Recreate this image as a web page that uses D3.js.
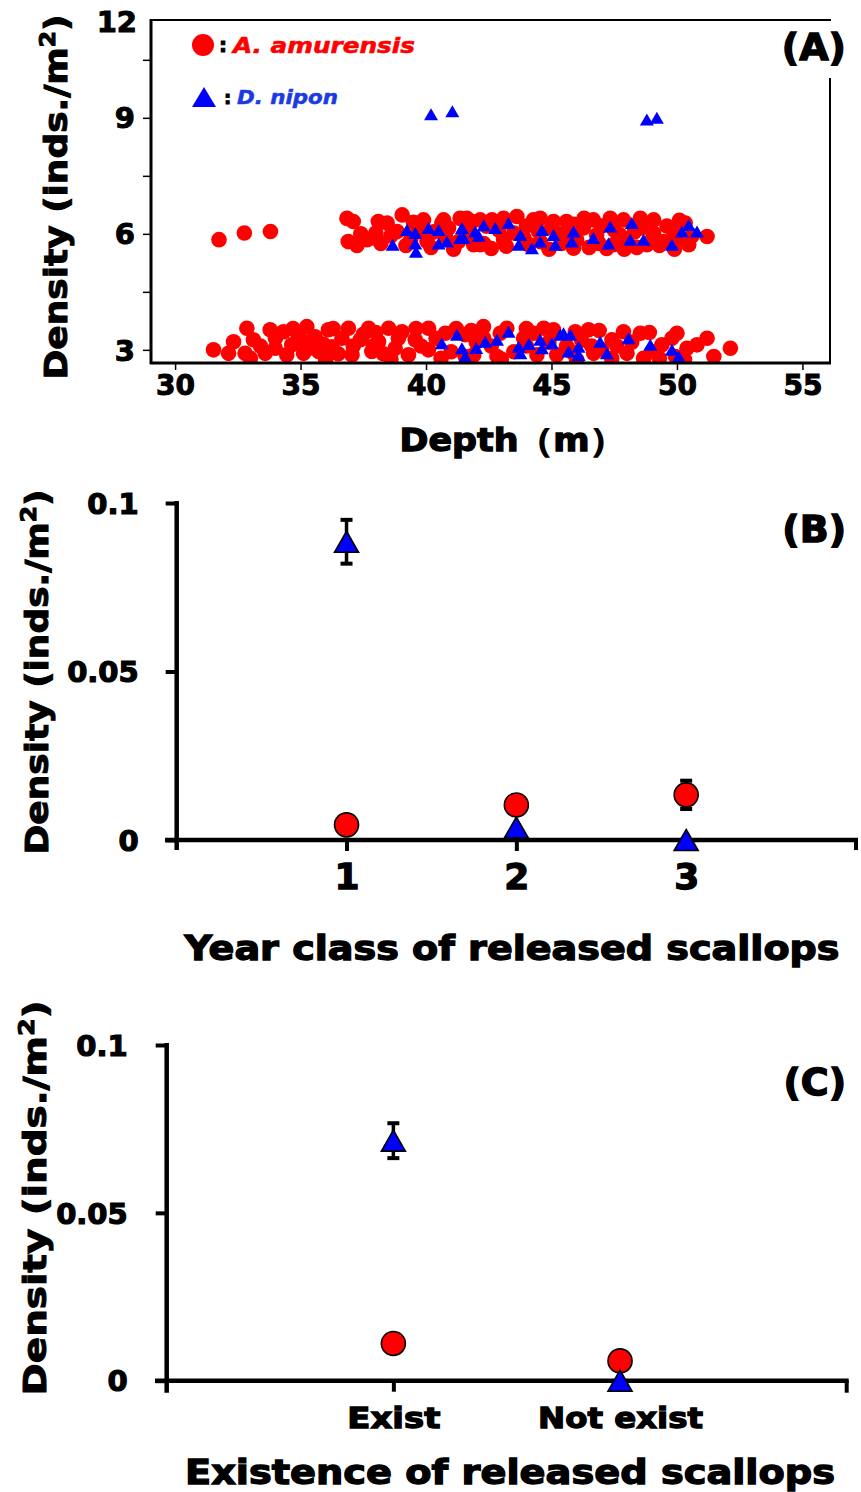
<!DOCTYPE html>
<html>
<head>
<meta charset="utf-8">
<script src="https://cdn.jsdelivr.net/npm/d3@7"></script>
<style>
  html, body { margin: 0; padding: 0; background: #fff; }
  svg { display: block; }
  .t { font-family: "DejaVu Sans", "Liberation Sans", Arial, sans-serif; font-weight: bold; fill: #000; stroke: #000; stroke-width: 1px; }
</style>
</head>
<body>
<svg id="chart" width="861" height="1492"></svg>
<script>
// ---- Panel A: density vs depth for each transect record ----
const amurDepthDensity = [
  [31.75,5.85],[32.76,6.02],[33.8,6.06],
  [36.85,6.4],[37.1,6.32],[36.9,5.8],[37.25,5.7],[37.65,5.85],[38.0,6.02],[38.1,6.32],[38.45,6.28],[38.2,5.75],
  [39.05,6.49],[38.85,6.06],[39.9,6.36],[39.4,5.89],[40.04,5.8],[40.63,6.28],[40.77,5.93],[41.36,6.4],[41.83,6.32],
  [42.16,5.72],[41.3,5.8],[40.7,6.36],[41.63,6.4],[42.16,6.36],[42.63,6.36],[43.09,6.4],[43.62,6.45],[44.28,6.36],
  [42.3,5.75],[43.09,5.85],[44.55,5.8],[41.9,5.72],[43.5,6.02],[44.48,6.06],[44.55,6.4],[45.08,6.32],[45.6,6.32],
  [46.67,6.36],[47.34,6.4],[47.87,6.36],[48.54,6.4],[49.07,6.36],[45.88,5.63],[47.47,5.72],[48.8,5.72],[49.47,5.8],
  [50.33,6.28],[50.47,5.72],[51.2,5.93],[49.87,6.06],[46.27,6.15],[46.8,5.97],[47.73,5.97],[49.07,6.02],
  [39.7,6.1],[40.3,6.05],[42.9,6.1],[43.9,5.9],[45.3,6.0],[46.0,5.85],[46.5,5.65],[47.0,6.2],[48.3,6.05],[48.0,5.75],
  [49.3,5.7],[50.0,5.85],[39.2,5.7],[42.6,5.62],[44.9,5.6],[47.9,5.6],[49.6,6.2],[37.9,5.9],
  [44.0,6.2],[45.0,6.15],[45.4,5.75],[46.3,6.4],[46.9,5.75],[47.5,6.1],[48.6,6.15],[49.0,5.85],[49.9,5.6],[50.1,6.35],
  [48.4,5.65],[47.2,5.62],[45.7,5.95],[44.1,5.72],[43.2,5.68],[42.4,6.2],[41.6,6.05],[40.9,6.15],[39.5,6.3],[38.6,5.95],
  [37.4,6.0],[40.2,5.65],[41.1,5.6],[45.9,6.25],[48.9,6.25],[50.6,5.95],
  [31.53,3.0],[32.13,2.91],[32.33,3.21],[32.86,3.56],[32.79,2.91],[33.12,3.26],[33.79,3.52],[33.59,2.91],[33.99,3.04],
  [34.32,3.47],[34.65,3.13],[34.45,2.87],[35.25,3.6],[35.18,3.21],[35.12,2.91],[35.58,3.34],[35.72,2.96],[36.11,3.52],
  [36.25,3.08],[36.65,3.3],[36.91,3.56],[37.05,2.87],[37.38,3.26],[37.71,3.56],[37.84,2.96],[38.11,3.21],[38.51,3.56],
  [38.77,3.04],[39.04,3.47],[39.3,2.87],[39.57,3.26],[40.1,3.56],[40.1,3.0],[40.77,3.43],[41.56,3.39],[42.29,3.6],
  [41.9,2.87],[42.96,3.43],[43.22,3.56],[43.89,3.3],[44.29,3.43],[44.69,3.56],[45.08,3.52],[44.42,2.87],[45.21,2.87],
  [45.95,3.47],[46.48,3.52],[46.68,2.91],[47.41,3.26],[47.87,3.47],[48.01,2.91],[48.54,3.43],[48.67,2.78],[49.4,3.13],
  [49.8,3.3],[50.0,3.43],[49.94,2.83],[50.4,3.04],[50.8,3.13],[51.2,3.3],[51.47,2.83],[52.13,3.04],[41.56,2.83],[42.83,2.83],
  [33.4,3.1],[34.0,3.3],[34.9,3.4],[35.9,3.15],[36.5,2.9],[37.1,3.1],[37.5,3.4],[38.3,2.9],[38.9,3.3],[39.8,3.1],
  [40.4,3.3],[41.0,2.95],[41.2,3.55],[42.0,3.2],[42.6,3.1],[43.5,2.95],[44.0,3.1],[44.9,3.2],[45.6,3.1],[46.2,3.25],
  [47.0,3.0],[47.6,3.1],[48.2,3.2],[49.0,2.95],[36.3,3.55],[38.0,3.45],
  [33.0,2.78],[36.0,2.75],[38.6,2.76],[40.6,2.78],[43.0,2.76],[46.0,2.75],[47.4,2.78],[49.3,2.78],[50.3,2.75],
  [34.7,3.55],[39.6,3.55],[41.8,3.5],[44.0,3.55],[46.9,3.5],[48.9,3.45],[37.9,3.1],[35.5,3.05],[42.3,3.3],[46.6,3.1],[45.8,2.95]
];
const nipDepthDensity = [
  [38.67,5.72],[39.24,6.1],[39.57,6.02],[39.57,5.75],[39.6,5.54],[40.1,6.15],[40.5,6.1],[40.5,5.75],[40.83,5.8],
  [41.43,6.15],[41.36,5.89],[41.96,6.06],[42.3,6.22],[42.76,6.15],[43.29,6.28],[43.76,5.97],[43.69,5.72],[44.22,5.63],
  [44.62,6.1],[44.55,5.8],[45.08,5.97],[45.15,5.72],[45.88,6.06],[45.81,5.8],[46.67,5.89],[47.34,6.19],[47.27,5.75],
  [48.2,6.28],[48.14,5.85],[48.67,5.85],[49.8,5.72],[50.2,6.06],[50.47,6.23],[50.8,6.06],[41.5,5.89],[42.1,5.95],
  [40.2,9.09],[41.05,9.17],[48.8,8.96],[49.2,9.0],
  [40.63,3.17],[41.23,3.39],[41.43,3.04],[41.56,2.83],[42.36,3.21],[42.83,3.26],[43.29,3.47],[43.69,3.08],[43.76,2.91],
  [44.55,3.26],[44.62,3.04],[45.02,3.17],[45.35,3.39],[45.48,3.43],[45.75,3.39],[45.68,2.96],[46.08,3.08],[46.08,2.87],
  [46.94,3.21],[47.21,2.91],[48.07,3.3],[48.94,3.13],[49.8,3.0],[50.07,2.83],[42.0,3.05],[44.1,3.15]
];
const depthTicks = [30, 35, 40, 45, 50, 55];
const densityTicksA = [3, 6, 9];
const densityMinorA = [4.5, 7.5, 10.5];

// ---- Panel B: mean density by year class of released scallops ----
const yearClasses = [1, 2, 3];
const amurByYear = [0.0045, 0.0104, 0.0134];
const amurByYearSE = [0, 0, 0.0042];
const nipByYear = [0.0885, 0.0037, 0];
const nipByYearSE = [0.0065, 0, 0];

// ---- Panel C: mean density by presence of released scallops ----
const existCats = ["Exist", "Not exist"];
const amurByExist = [0.0111, 0.0059];
const amurByExistSE = [0, 0];
const nipByExist = [0.0715, 0];
const nipByExistSE = [0.0052, 0];
const densityTicksBC = [0, 0.05, 0.1];

const RED = "#ff0000", BLUE = "#0000ff";
const svg = d3.select("#chart");

function tri(w, h) {
  // triangle centred on its bounding box
  return `M0,${-h/2}L${w/2},${h/2}L${-w/2},${h/2}Z`;
}
function yTitle(x, yc, size, len) {
  const t = svg.append("text").attr("class", "t")
    .attr("transform", `translate(${x},${yc}) rotate(-90)`)
    .attr("text-anchor", "middle").style("font-size", size + "px")
    .attr("textLength", len).attr("lengthAdjust", "spacingAndGlyphs");
  t.append("tspan").text("Density (inds./m");
  t.append("tspan").attr("baseline-shift", "super").style("font-size", (size * 0.65) + "px").text("2");
  t.append("tspan").text(")");
}
function xTitle(text, xc, y, size, len) {
  svg.append("text").attr("class", "t").attr("x", xc).attr("y", y)
    .attr("text-anchor", "middle").style("font-size", size + "px")
    .attr("textLength", len).attr("lengthAdjust", "spacingAndGlyphs")
    .style("stroke-width", "1.3px").text(text);
}
function panelTag(label, xr, y) {
  svg.append("text").attr("class", "t").attr("x", xr).attr("y", y)
    .attr("text-anchor", "end").style("font-size", "38px")
    .style("paint-order", "stroke").style("stroke", "#fff").style("stroke-width", "7px")
    .text(label);
  svg.append("text").attr("class", "t").attr("x", xr).attr("y", y)
    .attr("text-anchor", "end").style("font-size", "38px").style("stroke-width", "1.4px").text(label);
}

// ================= Panel A =================
const xA = d3.scaleLinear().domain([29.04, 56.1]).range([151, 830]);
const yA = d3.scaleLinear().domain([2.66, 11.53]).range([363, 20]);

svg.append("clipPath").attr("id", "clipA").append("rect")
  .attr("x", 151).attr("y", 20).attr("width", 679).attr("height", 343);

const gA = svg.append("g").attr("clip-path", "url(#clipA)");
gA.selectAll("circle.am").data(amurDepthDensity).join("circle")
  .attr("class", "am").attr("cx", d => xA(d[0])).attr("cy", d => yA(d[1]))
  .attr("r", 7.8).attr("fill", RED);
gA.selectAll("path.dn").data(nipDepthDensity).join("path")
  .attr("class", "dn").attr("d", tri(14, 12))
  .attr("transform", d => `translate(${xA(d[0])},${yA(d[1])})`)
  .attr("fill", BLUE);

// frame
svg.append("line").attr("x1", 151).attr("x2", 831).attr("y1", 20).attr("y2", 20)
  .attr("stroke", "#000").attr("stroke-width", 2);
svg.append("line").attr("x1", 830).attr("x2", 830).attr("y1", 78).attr("y2", 363)
  .attr("stroke", "#000").attr("stroke-width", 2);

// y axis
const axA = svg.append("g").attr("transform", "translate(151,0)")
  .call(d3.axisLeft(yA).tickValues(densityTicksA).tickSize(8).tickSizeOuter(0).tickPadding(8));
axA.select(".domain").remove();
svg.append("g").attr("transform", "translate(151,0)")
  .call(d3.axisLeft(yA).tickValues(densityMinorA).tickSize(8).tickFormat(""))
  .select(".domain").remove();
svg.append("line").attr("x1", 151).attr("x2", 151).attr("y1", 19).attr("y2", 364)
  .attr("stroke", "#000").attr("stroke-width", 3);
svg.append("text").attr("class", "t").attr("x", 137).attr("y", 32)
  .attr("text-anchor", "end").style("font-size", "29px").text("12");

// x axis
const axAx = svg.append("g").attr("transform", "translate(0,363)")
  .call(d3.axisBottom(xA).tickValues(depthTicks).tickSize(7).tickSizeOuter(0).tickPadding(5));
axAx.select(".domain").remove();
svg.append("line").attr("x1", 150).attr("x2", 831).attr("y1", 363).attr("y2", 363)
  .attr("stroke", "#000").attr("stroke-width", 3);

svg.selectAll("g.tick line").attr("stroke", "#000").attr("stroke-width", 1.5);
axA.selectAll("text").attr("class", "t").style("font-size", "29px").attr("dy", "0.35em");
axAx.selectAll("text").attr("class", "t").style("font-size", "28px");

xTitle("Depth（m）", 512, 451, 32, 225);
yTitle(67, 197, 32, 365);
panelTag("(A)", 846, 60);

// legend
svg.append("circle").attr("cx", 203).attr("cy", 45).attr("r", 11).attr("fill", RED);
svg.append("text").attr("class", "t").attr("x", 219).attr("y", 52).style("font-size", "20px").text(":");
svg.append("text").attr("x", 233).attr("y", 53)
  .style("font-family", "DejaVu Sans, Liberation Sans, Arial, sans-serif").style("font-weight", "bold")
  .style("font-style", "italic").style("font-size", "22px").attr("fill", RED)
  .attr("stroke", RED).attr("stroke-width", 0.6)
  .attr("textLength", 182).attr("lengthAdjust", "spacingAndGlyphs").text("A. amurensis");
svg.append("path").attr("d", tri(24, 20)).attr("transform", "translate(204,97)").attr("fill", BLUE);
svg.append("text").attr("class", "t").attr("x", 224).attr("y", 104).style("font-size", "18px").text(":");
svg.append("text").attr("x", 237).attr("y", 104)
  .style("font-family", "DejaVu Sans, Liberation Sans, Arial, sans-serif").style("font-weight", "bold")
  .style("font-style", "italic").style("font-size", "19px").attr("fill", "#1a3be0")
  .attr("stroke", "#1a3be0").attr("stroke-width", 0.5)
  .attr("textLength", 101).attr("lengthAdjust", "spacingAndGlyphs").text("D. nipon");

// ================= Panel B & C builder =================
function meanPanel(opt) {
  const { x, y, cats, catLabels, catLens, amur, amurSE, nip, nipSE, x0, xEnd, xLeft, yBottomExt, labelSize, labelY, tickPad } = opt;
  // y axis ticks
  const ay = svg.append("g").attr("transform", `translate(${x0},0)`)
    .call(d3.axisLeft(y).tickValues(densityTicksBC).tickSize(11).tickSizeOuter(0).tickPadding(tickPad)
      .tickFormat(d => d === 0 ? "0" : String(d)));
  ay.select(".domain").remove();
  ay.selectAll("line").attr("stroke", "#000").attr("stroke-width", 4);
  ay.selectAll("text").attr("class", "t").style("font-size", "29px").attr("dy", "0.35em")
    .style("stroke-width", "1.2px");
  svg.append("line").attr("x1", x0).attr("x2", x0).attr("y1", y(0.1) - 2).attr("y2", y(0) + yBottomExt)
    .attr("stroke", "#000").attr("stroke-width", 4.5);
  // x axis
  svg.append("line").attr("x1", xLeft).attr("x2", xEnd + 2).attr("y1", y(0)).attr("y2", y(0))
    .attr("stroke", "#000").attr("stroke-width", 4.5);
  svg.append("line").attr("x1", xEnd).attr("x2", xEnd).attr("y1", y(0)).attr("y2", y(0) + yBottomExt)
    .attr("stroke", "#000").attr("stroke-width", 4);
  const ax = svg.append("g").attr("transform", `translate(0,${y(0)})`)
    .call(d3.axisBottom(x).tickValues(cats).tickSize(11).tickSizeOuter(0).tickPadding(labelY)
      .tickFormat((d, i) => catLabels[i]));
  ax.select(".domain").remove();
  ax.selectAll("line").attr("stroke", "#000").attr("stroke-width", 4);
  ax.selectAll("text").attr("class", "t").style("font-size", labelSize + "px").style("stroke-width", "1.3px");
  if (catLens) {
    ax.selectAll("text").attr("textLength", (d, i) => catLens[i]).attr("lengthAdjust", "spacingAndGlyphs");
  }

  const g = svg.append("g");
  const capW = 12;
  function errBars(vals, se) {
    cats.forEach((c, i) => {
      if (!se[i]) return;
      const cx = x(c), y1 = y(vals[i] + se[i]), y2 = y(vals[i] - se[i]);
      g.append("line").attr("x1", cx).attr("x2", cx).attr("y1", y1).attr("y2", y2)
        .attr("stroke", "#000").attr("stroke-width", 3.5);
      [y1, y2].forEach(yy => g.append("line").attr("x1", cx - capW / 2).attr("x2", cx + capW / 2)
        .attr("y1", yy).attr("y2", yy).attr("stroke", "#000").attr("stroke-width", 4));
    });
  }
  errBars(amur, amurSE);
  errBars(nip, nipSE);
  g.selectAll("circle").data(cats).join("circle")
    .attr("cx", d => x(d)).attr("cy", (d, i) => y(amur[i])).attr("r", 12)
    .attr("fill", RED).attr("stroke", "#000").attr("stroke-width", 1.6);
  g.selectAll("path").data(cats).join("path")
    .attr("d", tri(24, 21))
    .attr("transform", (d, i) => `translate(${x(d)},${y(nip[i])})`)
    .attr("fill", BLUE).attr("stroke", "#000").attr("stroke-width", 1.6);
}

// ================= Panel B =================
const xB = d3.scaleLinear().domain([0, 4]).range([176.7, 856]);
const yB = d3.scaleLinear().domain([0, 0.1]).range([840, 503]);
meanPanel({ x: xB, y: yB, cats: yearClasses, catLabels: yearClasses.map(String), catLens: null,
  amur: amurByYear, amurSE: amurByYearSE, nip: nipByYear, nipSE: nipByYearSE,
  x0: 176.7, xEnd: 856, xLeft: 165, yBottomExt: 10, labelSize: 36, labelY: 12, tickPad: 27 });
xTitle("Year class of released scallops", 512, 960, 33, 655);
yTitle(48, 672, 32, 365);
panelTag("(B)", 846, 542);

// ================= Panel C =================
const xC = d3.scaleLinear().domain([0, 3]).range([166.7, 846.7]);
const yC = d3.scaleLinear().domain([0, 0.1]).range([1380.7, 1045]);
meanPanel({ x: xC, y: yC, cats: [1, 2], catLabels: existCats, catLens: [93, 165],
  amur: amurByExist, amurSE: amurByExistSE, nip: nipByExist, nipSE: nipByExistSE,
  x0: 166.7, xEnd: 846.7, xLeft: 155, yBottomExt: 12, labelSize: 29, labelY: 16, tickPad: 28 });
xTitle("Existence of released scallops", 510, 1484, 33, 650);
yTitle(46, 1198, 32, 395);
panelTag("(C)", 846, 1095);
</script>
</body>
</html>
